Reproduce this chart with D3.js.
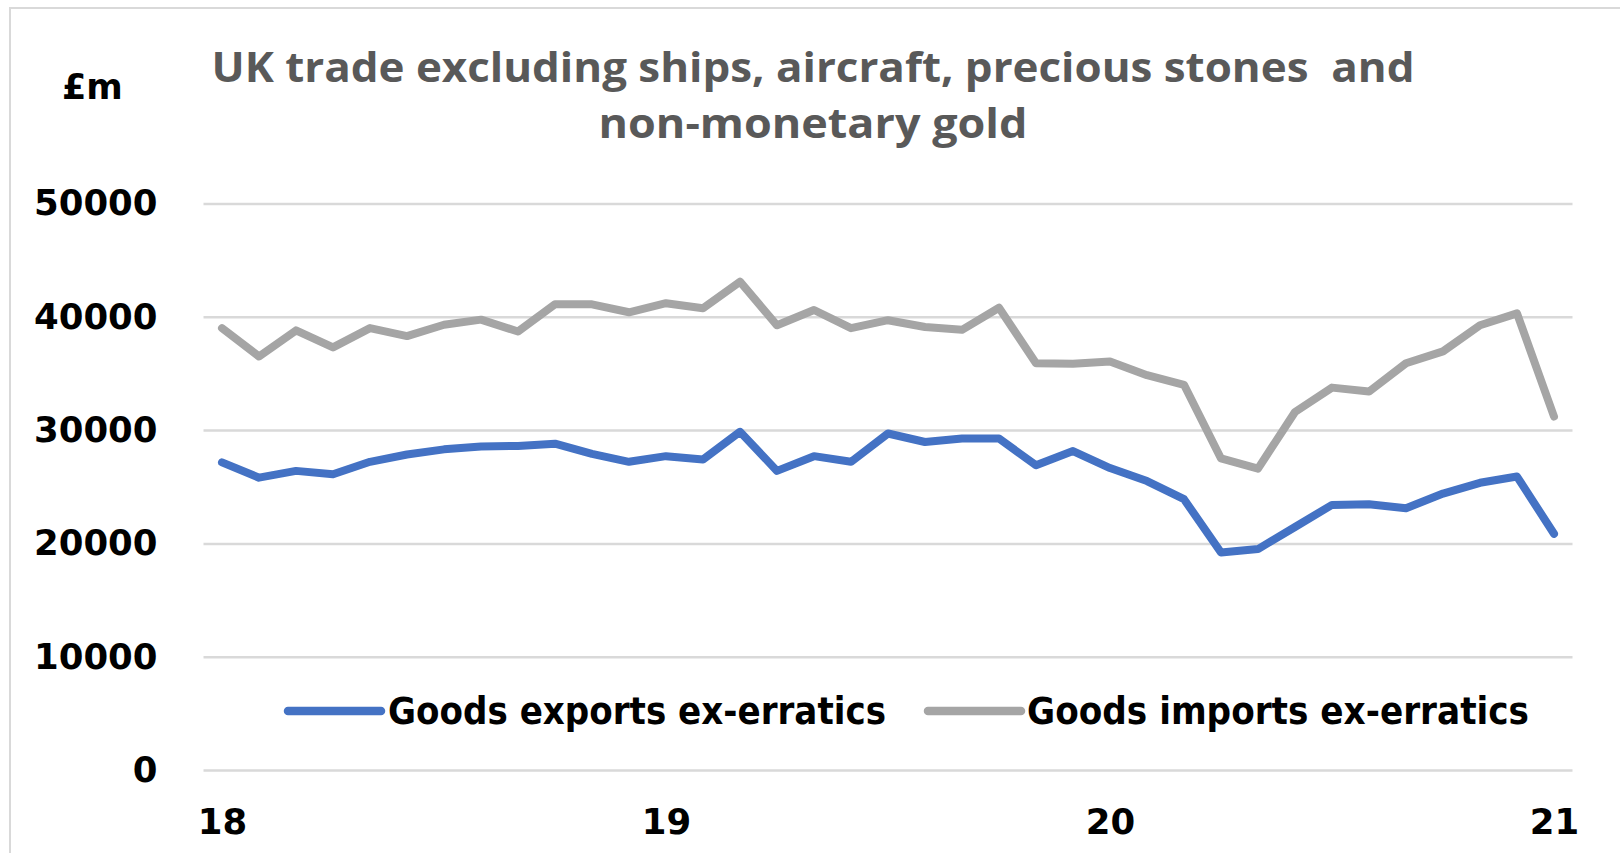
<!DOCTYPE html>
<html>
<head>
<meta charset="utf-8">
<script src="https://cdn.jsdelivr.net/npm/d3@7"></script>
<style>
    body { margin: 0; background: #fff; }
    svg { display: block; }
</style>
</head>
<body>
<div id="chart"></div>
<script>

//******************************************************************************
//**  Data
//******************************************************************************
var months = [
    "Jan 18","Feb 18","Mar 18","Apr 18","May 18","Jun 18","Jul 18","Aug 18","Sep 18","Oct 18","Nov 18","Dec 18",
    "Jan 19","Feb 19","Mar 19","Apr 19","May 19","Jun 19","Jul 19","Aug 19","Sep 19","Oct 19","Nov 19","Dec 19",
    "Jan 20","Feb 20","Mar 20","Apr 20","May 20","Jun 20","Jul 20","Aug 20","Sep 20","Oct 20","Nov 20","Dec 20",
    "Jan 21"
];

var exportsExErratics = [
    27150, 25800, 26400, 26100, 27200, 27850, 28300, 28550, 28600, 28800, 27900, 27200,
    27700, 27400, 29850, 26400, 27700, 27200, 29700, 28950, 29250, 29250, 26900, 28150,
    26650, 25500, 23900, 19200, 19500, 21450, 23400, 23450, 23100, 24400, 25350, 25900,
    20850
];

var importsExErratics = [
    39000, 36500, 38800, 37300, 39000, 38300, 39300, 39750, 38700, 41100, 41100, 40400,
    41200, 40750, 43100, 39250, 40600, 39000, 39700, 39100, 38850, 40800, 35900, 35850,
    36050, 34850, 34000, 27500, 26600, 31600, 33750, 33400, 35900, 36950, 39250, 40300,
    31200
];

var yTicks = [0, 10000, 20000, 30000, 40000, 50000];
var xTickLabels = [
    {month: "Jan 18", label: "18"},
    {month: "Jan 19", label: "19"},
    {month: "Jan 20", label: "20"},
    {month: "Jan 21", label: "21"}
];

var seriesNames = ["Goods exports ex-erratics", "Goods imports ex-erratics"];
var seriesColors = ["#4472c4", "#a5a5a5"];


//******************************************************************************
//**  Chart
//******************************************************************************
var width = 1620, height = 853;
var plot = {left: 203.5, right: 1572.5, top: 203.5, bottom: 770};
var labelFont = "'DejaVu Sans', sans-serif";

var svg = d3.select("#chart").append("svg")
    .attr("width", width)
    .attr("height", height);

// outer chart border (only top and left are in frame)
svg.append("rect")
    .attr("x", 10).attr("y", 8)
    .attr("width", width + 20).attr("height", height + 20)
    .attr("fill", "none")
    .attr("stroke", "#d9d9d9")
    .attr("stroke-width", 2);

var x = d3.scalePoint()
    .domain(months)
    .range([plot.left, plot.right])
    .padding(0.5);

var y = d3.scaleLinear()
    .domain([0, 50000])
    .range([plot.bottom, plot.top]);


//**************************************************************************
//** Gridlines + y labels
//**************************************************************************
var yAxis = svg.append("g")
    .attr("transform", "translate(" + plot.left + ",0)")
    .call(d3.axisLeft(y)
        .tickValues(yTicks)
        .tickFormat(d3.format("d"))
        .tickSize(-(plot.right - plot.left))
        .tickPadding(46));

yAxis.select(".domain").remove();
yAxis.selectAll(".tick line")
    .attr("stroke", "#d9d9d9")
    .attr("stroke-width", 2.5);
yAxis.selectAll(".tick text")
    .attr("fill", "#000")
    .style("font-family", labelFont)
    .style("font-weight", "bold")
    .style("font-size", "35.5px");


//**************************************************************************
//** x labels
//**************************************************************************
var xAxis = svg.append("g")
    .attr("transform", "translate(0," + plot.bottom + ")")
    .call(d3.axisBottom(x)
        .tickValues(xTickLabels.map(function(d){ return d.month; }))
        .tickFormat(function(m){
            return xTickLabels.find(function(d){ return d.month === m; }).label;
        })
        .tickSize(0)
        .tickPadding(39));

xAxis.select(".domain").remove();
xAxis.selectAll(".tick text")
    .attr("fill", "#000")
    .style("font-family", labelFont)
    .style("font-weight", "bold")
    .style("font-size", "35.5px");


//**************************************************************************
//** Lines
//**************************************************************************
var line = d3.line()
    .x(function(d, i){ return x(months[i]); })
    .y(function(d){ return y(d); });

[exportsExErratics, importsExErratics].forEach(function(values, i){
    svg.append("path")
        .datum(values)
        .attr("d", line)
        .attr("fill", "none")
        .attr("stroke", seriesColors[i])
        .attr("stroke-width", 8)
        .attr("stroke-linejoin", "round")
        .attr("stroke-linecap", "round");
});


//**************************************************************************
//** Legend
//**************************************************************************
var legendItems = [
    {x1: 288, x2: 381, tx: 388, tw: 498},
    {x1: 928, x2: 1021, tx: 1027, tw: 502}
];
var legendY = 711;

legendItems.forEach(function(item, i){
    svg.append("line")
        .attr("x1", item.x1).attr("x2", item.x2)
        .attr("y1", legendY).attr("y2", legendY)
        .attr("stroke", seriesColors[i])
        .attr("stroke-width", 8.5)
        .attr("stroke-linecap", "round");

    svg.append("text")
        .attr("x", item.tx)
        .attr("y", legendY)
        .attr("dy", "0.35em")
        .attr("textLength", item.tw)
        .attr("lengthAdjust", "spacingAndGlyphs")
        .attr("fill", "#000")
        .style("font-family", labelFont)
        .style("font-weight", "bold")
        .style("font-size", "37px")
        .text(seriesNames[i]);
});


//**************************************************************************
//** Titles
//**************************************************************************
var titleLines = [
    {text: "UK trade excluding ships, aircraft, precious stones  and", y: 82, w: 1203},
    {text: "non-monetary gold", y: 138, w: 429}
];

titleLines.forEach(function(t){
    svg.append("text")
        .attr("x", 813)
        .attr("y", t.y)
        .attr("text-anchor", "middle")
        .attr("textLength", t.w)
        .attr("lengthAdjust", "spacingAndGlyphs")
        .attr("fill", "#595959")
        .style("white-space", "pre")
        .style("font-family", "'Open Sans', sans-serif")
        .style("font-weight", "bold")
        .style("font-size", "41px")
        .text(t.text);
});

svg.append("text")
    .attr("x", 62)
    .attr("y", 99)
    .attr("fill", "#000")
    .style("font-family", labelFont)
    .style("font-weight", "bold")
    .style("font-size", "35px")
    .text("£m");

</script>
</body>
</html>
